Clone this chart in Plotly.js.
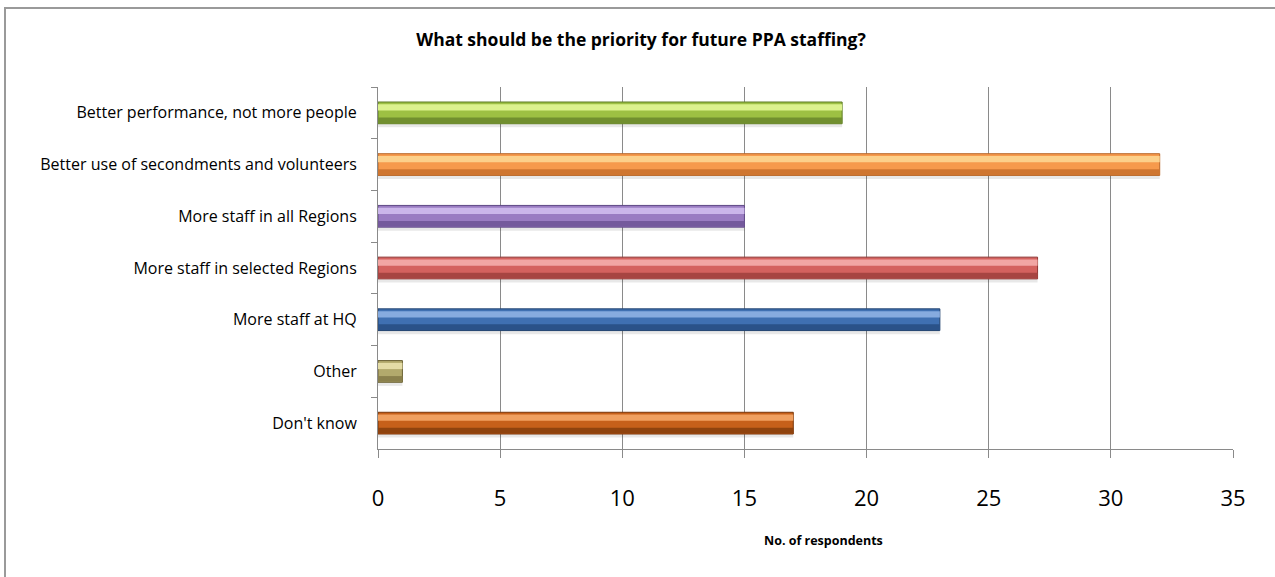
<!DOCTYPE html>
<html>
<head>
<meta charset="utf-8">
<script src="https://cdn.plot.ly/plotly-3.0.1.min.js"></script>
<style>
  html, body { margin: 0; padding: 0; overflow: hidden; background: #fff; }
  #frame { position: absolute; left: 4px; top: 7px; width: 1290px; height: 600px; border: 2px solid #9a9a9a; box-sizing: border-box; }
  #chart { position: absolute; left: 0; top: 0; width: 1275px; height: 577px; }
</style>
</head>
<body>
<div id="frame"></div>
<div id="chart"></div>
<script>
const categories = [
  "Better performance, not more people",
  "Better use of secondments and volunteers",
  "More staff in all Regions",
  "More staff in selected Regions",
  "More staff at HQ",
  "Other",
  "Don't know"
];
const respondents = [19, 32, 15, 27, 23, 1, 17];
const xTickValues = [0, 5, 10, 15, 20, 25, 30, 35];

const baseColors  = ["#9dc043", "#f69a4c", "#9a7cc2", "#d4625f", "#3f70b2", "#b2a96c", "#c6601a"];
const edgeColors  = ["#5f7d26", "#b8682a", "#5f4985", "#8e3633", "#22436f", "#6c6336", "#7a370a"];
const lightColors = ["#dcf28e", "#fcd08a", "#cbb6ea", "#f2a6a4", "#86abdf", "#e4dca6", "#f0a060"];
const darkColors  = ["#718f2f", "#cf7630", "#74599c", "#a74542", "#2a5289", "#8a804c", "#8f430e"];

const font = "'Open Sans', 'Noto Sans', sans-serif";

const shadow = {
  type: "bar", orientation: "h", y: categories, x: respondents,
  width: 0.42, offset: -0.14,
  marker: { color: "rgba(0,0,0,0.09)", line: { width: 0 } },
  hoverinfo: "skip", showlegend: false
};
const base = {
  type: "bar", orientation: "h", y: categories, x: respondents,
  width: 0.42, offset: -0.21,
  marker: { color: baseColors, line: { color: edgeColors, width: 1 } },
  showlegend: false
};
const dark = {
  type: "bar", orientation: "h", y: categories, x: respondents,
  width: 0.11, offset: 0.09,
  marker: { color: darkColors, line: { width: 0 } },
  hoverinfo: "skip", showlegend: false
};
const light = {
  type: "bar", orientation: "h", y: categories, x: respondents,
  width: 0.12, offset: -0.165,
  marker: { color: lightColors, line: { width: 0 } },
  hoverinfo: "skip", showlegend: false
};

const layout = {
  width: 1275, height: 577,
  paper_bgcolor: "rgba(0,0,0,0)", plot_bgcolor: "rgba(0,0,0,0)",
  margin: { l: 378, r: 42, t: 87, b: 128 },
  barmode: "overlay",
  font: { family: font, color: "#000" },
  title: {
    text: "<b>What should be the priority for future PPA staffing?</b>",
    font: { family: font, size: 17.5, color: "#000" },
    x: 641 / 1275, xref: "container", xanchor: "center",
    y: 1 - 40 / 577, yref: "container", yanchor: "middle"
  },
  xaxis: {
    range: [0, 35], tickvals: xTickValues, ticktext: xTickValues.map(String),
    showgrid: true, gridcolor: "#8a8a8a", gridwidth: 1,
    showline: true, linecolor: "#8a8a8a", linewidth: 1,
    ticks: "outside", ticklen: 8, tickcolor: "#8a8a8a",
    tickfont: { family: font, size: 22, color: "#000" },
    ticklabelstandoff: 22,
    zeroline: false, fixedrange: true
  },
  yaxis: {
    autorange: "reversed", type: "category",
    showgrid: false, showline: true, linecolor: "#8a8a8a", linewidth: 1,
    ticks: "outside", ticklen: 6, tickcolor: "#8a8a8a", tickson: "boundaries",
    tickfont: { family: font, size: 16, color: "#000" },
    ticklabelstandoff: 17,
    zeroline: false, fixedrange: true
  },
  annotations: [{
    text: "<b>No. of respondents</b>", showarrow: false,
    xref: "paper", yref: "paper", x: (823 - 378) / 855, y: -(540 - 449) / 362,
    xanchor: "center", yanchor: "middle",
    font: { family: font, size: 12.5, color: "#000" }
  }]
};

Plotly.newPlot("chart", [shadow, base, dark, light], layout, { displayModeBar: false, staticPlot: true });
</script>
</body>
</html>
